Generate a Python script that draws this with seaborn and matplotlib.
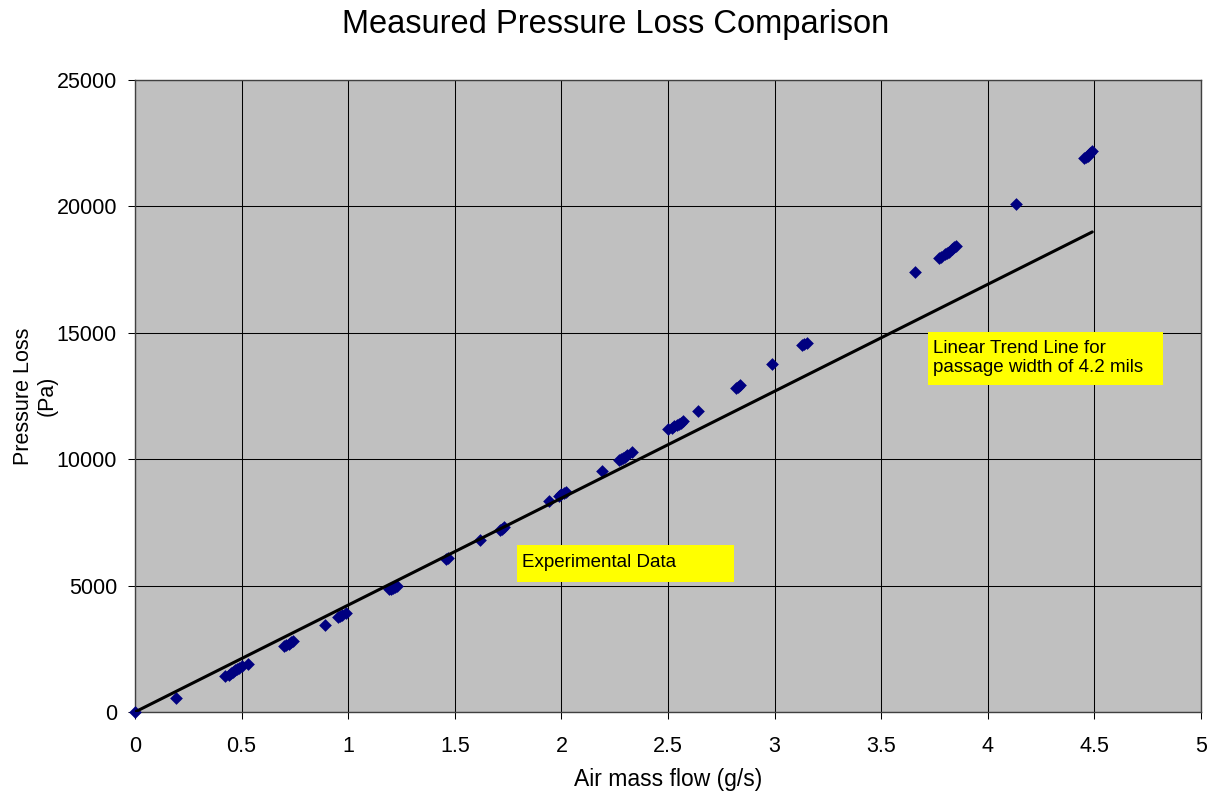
import matplotlib
matplotlib.use("Agg")
import matplotlib.pyplot as plt
from matplotlib.patches import Rectangle
import seaborn as sns
import pandas as pd

flow = [0.0, 0.19, 0.42, 0.44, 0.45, 0.46, 0.47, 0.48, 0.49, 0.50, 0.53,
        0.70, 0.71, 0.72, 0.73, 0.74, 0.89, 0.95, 0.96, 0.97, 0.99,
        1.19, 1.20, 1.21, 1.22, 1.23, 1.46, 1.47, 1.62, 1.71, 1.72, 1.73,
        1.94, 1.99, 2.00, 2.01, 2.02, 2.19, 2.27, 2.28, 2.29, 2.30, 2.31, 2.33,
        2.50, 2.52, 2.53, 2.54, 2.55, 2.56, 2.57, 2.64, 2.82, 2.83, 2.84,
        2.99, 3.13, 3.14, 3.15, 3.66, 3.77, 3.78, 3.80, 3.81, 3.82, 3.83, 3.84, 3.85,
        4.13, 4.45, 4.46, 4.47, 4.48, 4.49]
loss = [0, 550, 1420, 1480, 1550, 1600, 1650, 1700, 1750, 1800, 1900,
        2600, 2650, 2700, 2750, 2800, 3450, 3750, 3800, 3850, 3900,
        4850, 4870, 4900, 4950, 5000, 6050, 6100, 6800, 7200, 7250, 7300,
        8350, 8550, 8620, 8680, 8700, 9550, 9950, 10000, 10050, 10100, 10150, 10300,
        11200, 11250, 11300, 11350, 11400, 11450, 11500, 11900, 12800, 12870, 12950,
        13750, 14500, 14550, 14600, 17400, 17950, 18000, 18100, 18150, 18200, 18300, 18380, 18450,
        20100, 21900, 21950, 22000, 22100, 22200]

# Linear trend line for passage width of 4.2 mils
trend_x = [0.0, 4.49]
trend_y = [0, 18990]

x_ticks = [0, 0.5, 1, 1.5, 2, 2.5, 3, 3.5, 4, 4.5, 5]
x_ticklabels = ["0", "0.5", "1", "1.5", "2", "2.5", "3", "3.5", "4", "4.5", "5"]
y_ticks = [0, 5000, 10000, 15000, 20000, 25000]

sns.set_style("white")
plt.rcParams['font.family'] = ['Liberation Sans', 'DejaVu Sans']
plt.rcParams['text.color'] = 'black'
plt.rcParams['axes.labelcolor'] = 'black'
plt.rcParams['xtick.color'] = 'black'
plt.rcParams['ytick.color'] = 'black'

fig = plt.figure(figsize=(12.1, 7.95), dpi=100)
ax = fig.add_axes([135/1210, 1 - 712/795, (1201-135)/1210, (712-80)/795])
ax.set_facecolor("#C0C0C0")

df = pd.DataFrame({"flow": flow, "loss": loss})
sns.scatterplot(data=df, x="flow", y="loss", marker="D", color="#000080",
                edgecolor="#000080", s=42, linewidth=0, ax=ax, zorder=3, clip_on=False)
sns.lineplot(x=trend_x, y=trend_y, color="black", linewidth=2.2, ax=ax, zorder=4)

ax.set_xlim(0, 5)
ax.set_ylim(0, 25000)
ax.set_xticks(x_ticks)
ax.set_xticklabels(x_ticklabels)
ax.set_yticks(y_ticks)
ax.grid(True, color="black", linewidth=0.75)
ax.set_axisbelow(True)
for s in ax.spines.values():
    s.set_color("#404040")
    s.set_linewidth(1.0)
ax.tick_params(axis="both", labelsize=15.5, length=5, width=0.75, direction="out",
               color="black", bottom=True, left=True)
ax.tick_params(axis="x", pad=12)
ax.tick_params(axis="y", pad=8)

ax.set_xlabel("Air mass flow (g/s)", fontsize=16.5)
ax.xaxis.set_label_coords(0.5, (712 - 768) / 632)
ax.set_ylabel("Pressure Loss\n(Pa)", fontsize=15.5, linespacing=1.2)
ax.yaxis.set_label_coords((58 - 135) / 1066, 0.5)
fig.text(616 / 1210, 1 - 25/795, "Measured Pressure Loss Comparison", fontsize=23.5,
         ha="center", va="center")

# annotation boxes
ax.add_patch(Rectangle((1.792, 5142), 2.810 - 1.792, 6606 - 5142, facecolor="#FFFF00",
                       edgecolor="none", zorder=5))
ax.text(1.815, 5920, "Experimental Data", fontsize=13.5, va="center", ha="left", zorder=6)
ax.add_patch(Rectangle((3.719, 12935), 4.822 - 3.719, 15032 - 12935, facecolor="#FFFF00",
                       edgecolor="none", zorder=5))
ax.text(3.742, 14000, "Linear Trend Line for\npassage width of 4.2 mils", fontsize=13.5,
        va="center", ha="left", linespacing=1.2, zorder=6)

fig.savefig("out.png", dpi=100, facecolor="white")
